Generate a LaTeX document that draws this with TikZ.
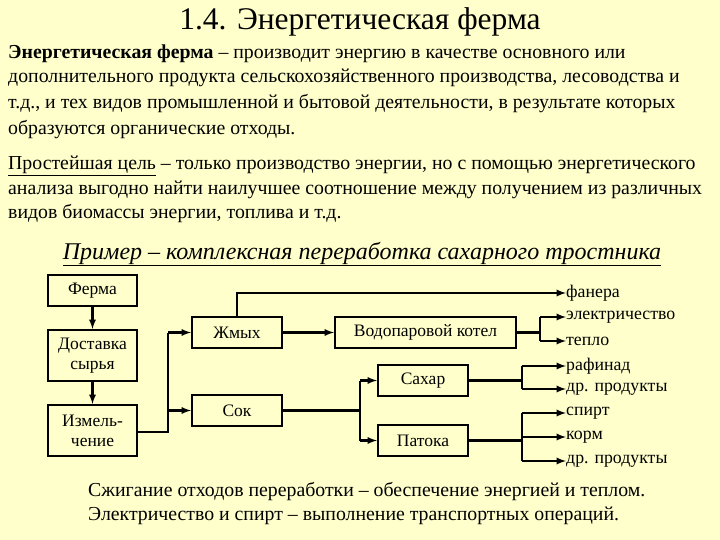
\documentclass[tikz,border=0pt]{standalone}
\usepackage{fontspec}
\setmainfont{Liberation Serif}
\begin{document}
\begin{tikzpicture}[x=1pt,y=-1pt,
  box/.style={draw,line width=2.2pt,inner sep=0pt,font=\fontsize{17.5}{20}\selectfont,align=center},
  ln/.style={line width=2.2pt},
  ar/.style={line width=2.2pt,-latex},
  lab/.style={anchor=west,inner sep=0pt,font=\fontsize{17.8}{20}\selectfont},
  txt/.style={anchor=west,inner sep=0pt,font=\fontsize{19.8}{22}\selectfont}]
\fill[fill={rgb,255:red,255;green,255;blue,204}] (0,0) rectangle (720,540);
\useasboundingbox (0,0) rectangle (720,540);
\node[font=\fontsize{31.5}{34}\selectfont] (title) at (360,22) {1.4. Энергетическая ферма};
\node[txt] (p1) at (8,54) {\textbf{Энергетическая ферма} – производит энергию в качестве основного или};
\node[txt] (p2) at (8,78) {дополнительного продукта сельскохозяйственного производства, лесоводства и};
\node[txt] (p3) at (8,104) {т.д., и тех видов промышленной и бытовой деятельности, в результате которых};
\node[txt] (p4) at (8,130) {образуются органические отходы.};
\node[txt] (q1) at (8,166) {\underline{Простейшая цель} – только производство энергии, но с помощью энергетического};
\node[txt] (q2) at (8,190) {анализа выгодно найти наилучшее соотношение между получением из различных};
\node[txt] (q3) at (8,214) {видов биомассы энергии, топлива и т.д.};
\node[font=\fontsize{24}{26}\selectfont\itshape] (ex) at (362,254) {\underline{Пример – комплексная переработка сахарного тростника}};
\node[box,minimum width=89,minimum height=31] (fe) at (92.5,290.5) {Ферма};
\node[box,minimum width=89,minimum height=51] (do) at (92.5,355.5) {Доставка\\сырья};
\node[box,minimum width=89,minimum height=51] (iz) at (92.5,430.5) {Измель-\\чение};
\node[box,minimum width=90,minimum height=31] (zh) at (237,332.5) {Жмых};
\node[box,minimum width=90,minimum height=31] (so) at (237,410.5) {Сок};
\node[box,minimum width=181,minimum height=31] (ko) at (425.5,332.5) {Водопаровой котел};
\node[box,minimum width=90,minimum height=31] (sa) at (423,380.5) {Сахар};
\node[box,minimum width=90,minimum height=31] (pa) at (423,440.5) {Патока};
\node[lab] (l1) at (566,293) {фанера};
\node[lab] (l2) at (566,317) {электричество};
\node[lab] (l3) at (566,341) {тепло};
\node[lab] (l4) at (566,366) {рафинад};
\node[lab] (l5) at (566,389) {др. продукты};
\node[lab] (l6) at (566,413) {спирт};
\node[lab] (l7) at (566,437) {корм};
\node[lab] (l8) at (566,461) {др. продукты};
\node[txt] (b1) at (88,492) {Сжигание отходов переработки – обеспечение энергией и теплом.};
\node[txt] (b2) at (88,516) {Электричество и спирт – выполнение транспортных операций.};
\draw[ar] (fe) -- (do);
\draw[ar] (do) -- (iz);
\coordinate (j1) at (168,432);
\draw[ln] (iz.east |- j1) -- (j1) -- (168,332.5);
\draw[ar] (168,332.5) -- (zh.west);
\draw[ar] (168,410.5) -- (so.west);
\draw[ar] (zh.east) -- (ko.west);
\draw[ar] (zh.north) |- (l1.west);
\draw[ln] (ko.east) -- (540,332.5);
\draw[ar] (540,317) -- (l2.west);
\draw[ar] (540,341) -- (l3.west);
\draw[ln] (540,317) -- (540,341);
\draw[ln] (so.east) -- (360,410.5);
\draw[ln] (360,380.5) -- (360,440.5);
\draw[ar] (360,380.5) -- (sa.west);
\draw[ar] (360,440.5) -- (pa.west);
\draw[ln] (sa.east) -- (522,380.5);
\draw[ln] (522,366) -- (522,389);
\draw[ar] (522,366) -- (l4.west);
\draw[ar] (522,389) -- (l5.west);
\draw[ln] (pa.east) -- (522,440.5);
\draw[ln] (522,413) -- (522,461);
\draw[ar] (522,413) -- (l6.west);
\draw[ar] (522,437) -- (l7.west);
\draw[ar] (522,461) -- (l8.west);
\end{tikzpicture}
\end{document}
